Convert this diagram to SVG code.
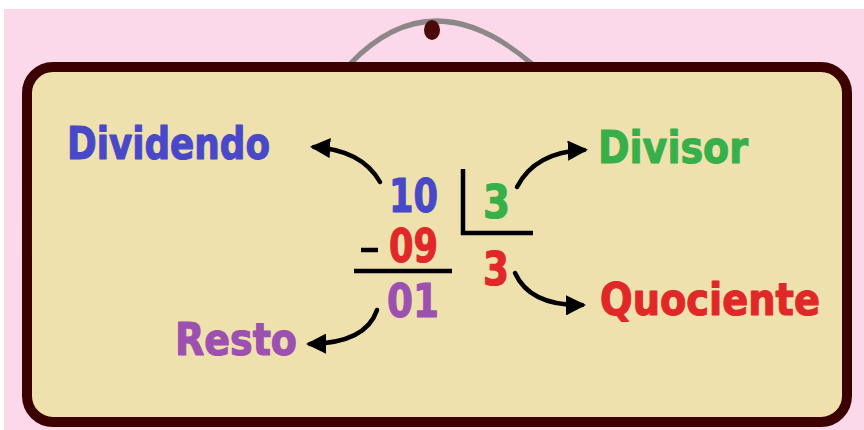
<svg xmlns="http://www.w3.org/2000/svg" width="864" height="430" viewBox="0 0 864 430">
<defs>
<style>
.t{font-family:"DejaVu Sans","Liberation Sans",sans-serif;font-weight:bold;stroke-width:1.2;stroke-linejoin:round;}
.lbl{font-size:44px;}
.num{font-size:47px;}
.blue{fill:#4848c8;stroke:#4848c8;}
.green{fill:#38b04a;stroke:#38b04a;}
.red{fill:#e02828;stroke:#e02828;}
.purple{fill:#9c50b0;stroke:#9c50b0;}
.conn path{fill:none;stroke:#000;stroke-width:4.5;stroke-linecap:round;}
.rule{stroke:#000;stroke-width:4.5;fill:none;}
</style>
<marker id="ah" viewBox="0 0 10 10" refX="8" refY="5" markerWidth="4.5" markerHeight="4.5" orient="auto" markerUnits="strokeWidth">
<path d="M0,0 L10,5 L0,10 Z" fill="#000"/>
</marker>
</defs>
<rect x="0" y="0" width="864" height="430" fill="#ffffff"/>
<rect x="4" y="9" width="860" height="421" fill="#fcd9ea"/>
<g id="hanger">
<path d="M350 64 Q 432 -22 532 64" fill="none" stroke="#8c8888" stroke-width="5"/>
<ellipse cx="432" cy="30" rx="8" ry="10" fill="#4a0a0a"/>
</g>
<g id="board">
<rect x="27" y="67" width="820" height="355" rx="26" ry="26" fill="#efe1ad" stroke="#3d0000" stroke-width="10"/>
</g>
<g id="dividendo"><text class="t lbl blue" x="67" y="159" textLength="203" lengthAdjust="spacingAndGlyphs">Dividendo</text></g>
<g id="divisor"><text class="t lbl green" x="598" y="163" textLength="150" lengthAdjust="spacingAndGlyphs">Divisor</text></g>
<g id="quociente"><text class="t lbl red" x="600" y="315" textLength="220" lengthAdjust="spacingAndGlyphs">Quociente</text></g>
<g id="resto"><text class="t lbl purple" x="175" y="355" textLength="122" lengthAdjust="spacingAndGlyphs">Resto</text></g>
<g id="n10"><text class="t num blue" x="389" y="212" textLength="49" lengthAdjust="spacingAndGlyphs">10</text></g>
<g id="n3div"><text class="t num green" x="483" y="218" textLength="27" lengthAdjust="spacingAndGlyphs">3</text></g>
<g id="n09">
<line class="rule" x1="361" y1="250" x2="378" y2="250"/>
<text class="t num red" x="389" y="262" textLength="49" lengthAdjust="spacingAndGlyphs">09</text>
</g>
<g id="n3quo"><text class="t num red" x="483" y="285" textLength="26" lengthAdjust="spacingAndGlyphs">3</text></g>
<g id="n01"><text class="t num purple" x="387" y="317" textLength="52" lengthAdjust="spacingAndGlyphs">01</text></g>
<g id="rules">
<path class="rule" d="M463 169 V233 H533"/>
<line class="rule" x1="354" y1="271" x2="452" y2="271"/>
</g>
<g id="connectors" class="conn">
<path d="M380 182 Q 362 150 314 147" marker-end="url(#ah)"/>
<path d="M517 187 Q 535 152 584 150" marker-end="url(#ah)"/>
<path d="M515 273 Q 530 306 582 305" marker-end="url(#ah)"/>
<path d="M377 310 Q 366 343 310 344" marker-end="url(#ah)"/>
</g>
</svg>
